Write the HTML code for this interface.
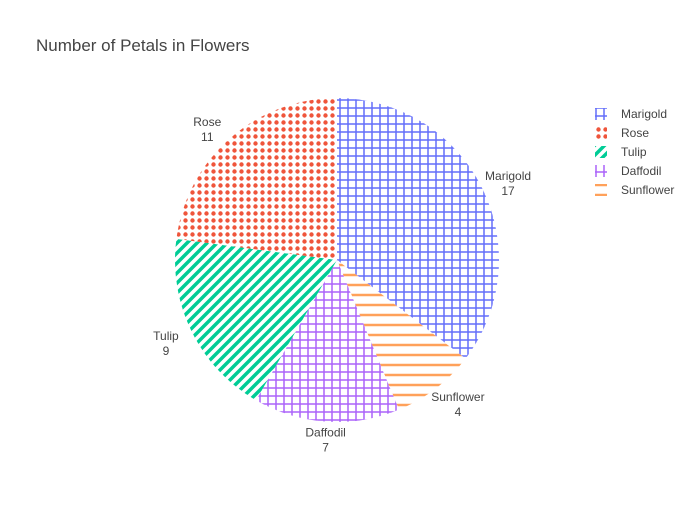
<!DOCTYPE html>
<html><head><meta charset="utf-8"><style>
body{margin:0;background:#fff;font-family:"Liberation Sans",sans-serif}
</style></head><body>
<svg width="700" height="500" xmlns="http://www.w3.org/2000/svg">
<defs>
<pattern id="p0" width="8" height="8" patternUnits="userSpaceOnUse"><rect width="8" height="8" fill="#fff"/><path d="M4 0V8M0 4H8" stroke="#636efa" stroke-width="1.5"/></pattern>
<pattern id="p1" width="7" height="7" patternUnits="userSpaceOnUse"><rect width="7" height="7" fill="#fff"/><circle cx="3.5" cy="3.5" r="2.2" fill="#ef553b"/></pattern>
<pattern id="p2" width="10" height="10" patternUnits="userSpaceOnUse"><rect width="10" height="10" fill="#fff"/><path d="M-2 12L12 -2M-7 7L7 -7M3 17L17 3" stroke="#00cc96" stroke-width="3.5"/></pattern>
<pattern id="p3" width="8" height="8" patternUnits="userSpaceOnUse"><rect width="8" height="8" fill="#fff"/><path d="M4 0V8M0 4H8" stroke="#ab63fa" stroke-width="1.5"/></pattern>
<pattern id="p4" width="10" height="10" patternUnits="userSpaceOnUse"><rect width="10" height="10" fill="#fff"/><path d="M0 5H10" stroke="#ffa15a" stroke-width="2.5"/></pattern>
</defs>
<text x="36" y="51" font-size="17" fill="#444">Number of Petals in Flowers</text>
<g id="pie"></g>
<g id="legend"></g>
</svg>
<script>
const labels=["Marigold","Sunflower","Daffodil","Tulip","Rose"];
const values=[17,4,7,9,11];
const patterns=["p0","p4","p3","p2","p1"];
const legendLabels=["Marigold","Rose","Tulip","Daffodil","Sunflower"];
const legendPatterns=["p0","p1","p2","p3","p4"];
const NS="http://www.w3.org/2000/svg";
const cx=337,cy=260,R=162;
const total=values.reduce((a,b)=>a+b,0);
const pie=document.getElementById('pie');
function pt(a,r){return [cx+Math.sin(a)*r,cy-Math.cos(a)*r];}
let a0=0;
values.forEach((v,i)=>{
  const a1=a0+v/total*2*Math.PI;
  const [x0,y0]=pt(a0,R),[x1,y1]=pt(a1,R);
  const p=document.createElementNS(NS,'path');
  p.setAttribute('d',`M${cx},${cy}L${x0},${y0}A${R},${R} 0 ${a1-a0>Math.PI?1:0} 1 ${x1},${y1}Z`);
  p.setAttribute('fill',`url(#${patterns[i]})`);
  
  
  pie.appendChild(p);
  const am=(a0+a1)/2;
  const [lx,ly]=pt(am,R+12);
  const s=Math.sin(am);
  const dx=s>0.3?15:(s<-0.3?-15:0);
  const dy=Math.cos(am)>0?-3:3;
  const t=document.createElementNS(NS,'text');
  t.setAttribute('font-size','12');t.setAttribute('fill','#444');t.setAttribute('text-anchor','middle');
  
  
  t.innerHTML=`<tspan x="${lx+dx}" y="${ly+dy}">${labels[i]}</tspan><tspan x="${lx+dx}" dy="15">${values[i]}</tspan>`;
  pie.appendChild(t);
  a0=a1;
});
const lg=document.getElementById('legend');
legendLabels.forEach((l,i)=>{
  const g=document.createElementNS(NS,'g');
  
  
  const y=114+i*19;
  g.innerHTML=`<rect x="595" y="${y-6}" width="12" height="12" fill="url(#${legendPatterns[i]})"/><text x="621" y="${y+4}" font-size="12" fill="#444">${l}</text>`;
  lg.appendChild(g);
});
</script>
</body></html>
